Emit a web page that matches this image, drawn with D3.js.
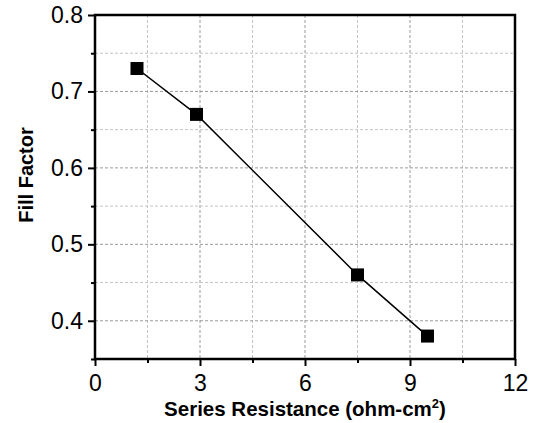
<!DOCTYPE html>
<html>
<head>
<meta charset="utf-8">
<script src="https://cdn.jsdelivr.net/npm/d3@7"></script>
<style>
  body { margin: 0; background: #fff; }
  text { font-family: "Liberation Sans", Arial, sans-serif; }
</style>
</head>
<body>
<svg class="svg-fill" width="537" height="423"></svg>
<script>
// data
const resistance = [1.2, 2.9, 7.5, 9.5]
const fillFactor = [0.73, 0.67, 0.46, 0.38]
const xTicks = [0, 3, 6, 9, 12]
const xMinor = [1.5, 4.5, 7.5, 10.5]
const yTicks = [0.4, 0.5, 0.6, 0.7, 0.8]
const yMinor = [0.35, 0.45, 0.55, 0.65, 0.75]

var margin = { top: 15, right: 22, bottom: 64, left: 95 }
var width = 537 - margin.left - margin.right
var height = 423 - margin.top - margin.bottom

var svg = d3.select('.svg-fill')
var g = svg.append('g')
    .attr('transform', 'translate(' + margin.left + ',' + margin.top + ')')

var x_scale = d3.scaleLinear().domain([0, 12]).range([0, width])
var y_scale = d3.scaleLinear().domain([0.35, 0.8]).range([height, 0])

// grid, dashed gray
g.selectAll('.vgrid')
    .data(xTicks.concat(xMinor).filter(d => d > 0 && d < 12))
    .enter().append('line')
    .attr('x1', d => x_scale(d)).attr('x2', d => x_scale(d))
    .attr('y1', 0).attr('y2', height)
    .attr('stroke', d => xTicks.includes(d) ? '#9a9a9a' : '#c4c4c4')
    .attr('stroke-width', 1)
    .attr('stroke-dasharray', '3,2')

g.selectAll('.hgrid')
    .data(yTicks.concat(yMinor).filter(d => d > 0.35 && d < 0.8))
    .enter().append('line')
    .attr('x1', 0).attr('x2', width)
    .attr('y1', d => y_scale(d)).attr('y2', d => y_scale(d))
    .attr('stroke', d => yTicks.includes(d) ? '#9a9a9a' : '#c4c4c4')
    .attr('stroke-width', 1)
    .attr('stroke-dasharray', '3,2')

// axes
var x_axis = d3.axisBottom(x_scale).tickValues(xTicks).tickSize(7).tickPadding(9).tickFormat(d3.format('d'))
var x_minor = d3.axisBottom(x_scale).tickValues(xMinor).tickSize(4).tickFormat('')
var y_axis = d3.axisLeft(y_scale).tickValues(yTicks).tickSize(7).tickPadding(5).tickFormat(d3.format('.1f'))
var y_minor = d3.axisLeft(y_scale).tickValues(yMinor).tickSize(4).tickFormat('')

function styleAxis(sel) {
    sel.select('.domain').remove()
    sel.selectAll('line').attr('stroke', '#000').attr('stroke-width', 2)
    sel.selectAll('text').attr('fill', '#000').style('font-size', '23px')
}

g.append('g').attr('transform', 'translate(0,' + height + ')').call(x_axis).call(styleAxis)
g.append('g').attr('transform', 'translate(0,' + height + ')').call(x_minor).call(styleAxis)
g.append('g').call(y_axis).call(styleAxis)
g.append('g').call(y_minor).call(styleAxis)

// frame
g.append('rect')
    .attr('x', 0).attr('y', 0)
    .attr('width', width).attr('height', height)
    .attr('fill', 'none')
    .attr('stroke', '#000')
    .attr('stroke-width', 2.5)

// line + markers
var line = d3.line()
    .x((d, idx) => x_scale(resistance[idx]))
    .y(d => y_scale(d))

g.append('path')
    .attr('d', line(fillFactor))
    .attr('stroke', '#000')
    .attr('stroke-width', 1.5)
    .attr('fill', 'none')

g.selectAll('.pt')
    .data(fillFactor)
    .enter().append('rect')
    .attr('x', (d, idx) => x_scale(resistance[idx]) - 6.5)
    .attr('y', d => y_scale(d) - 6.5)
    .attr('width', 13).attr('height', 13)
    .attr('fill', '#000')

// axis titles
var xl = svg.append('text')
    .attr('x', 305)
    .attr('y', 416)
    .attr('text-anchor', 'middle')
    .style('font-size', '20.5px')
    .style('font-weight', 'bold')
xl.append('tspan').text('Series Resistance (ohm-cm')
xl.append('tspan').attr('dy', -8).style('font-size', '13px').text('2')
xl.append('tspan').attr('dy', 8).text(')')

svg.append('text')
    .attr('transform', 'translate(33,175) rotate(-90)')
    .attr('text-anchor', 'middle')
    .style('font-size', '20px')
    .style('font-weight', 'bold')
    .text('Fill Factor')
</script>
</body>
</html>
